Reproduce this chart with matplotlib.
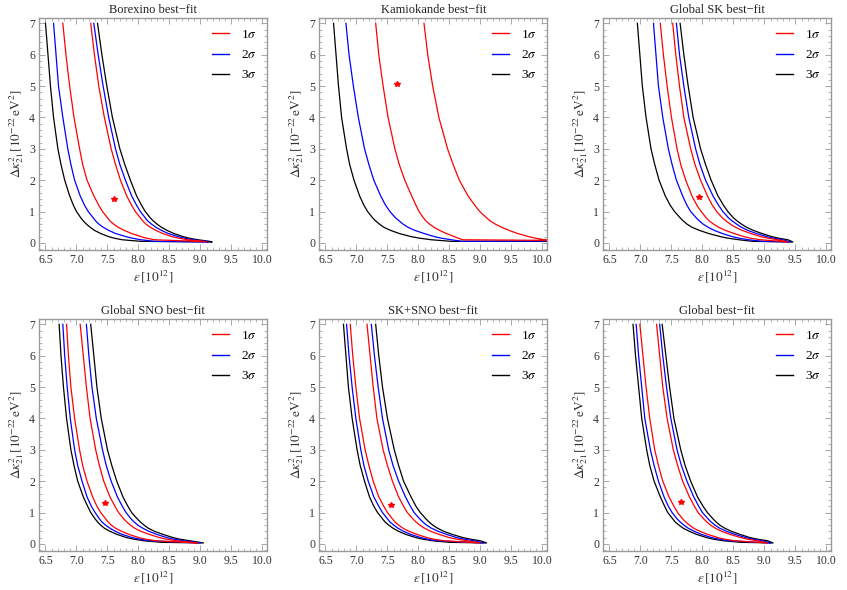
import matplotlib
matplotlib.use("Agg")
import matplotlib.pyplot as plt
from matplotlib.lines import Line2D
from matplotlib.ticker import MultipleLocator, FormatStrFormatter

plt.rcParams["font.family"] = ["Liberation Serif", "DejaVu Serif"]
plt.rcParams["mathtext.fontset"] = "stix"

y_levels = [7, 6, 5, 4, 3, 2.5, 2, 1.5, 1.2, 1, 0.8, 0.7, 0.6, 0.5, 0.4, 0.3, 0.2, 0.15, 0.1, 0.05]

titles = ["Borexino best\u2212fit", "Kamiokande best\u2212fit", "Global SK best\u2212fit",
          "Global SNO best\u2212fit", "SK+SNO best\u2212fit", "Global best\u2212fit"]

# each panel: [1 sigma, 2 sigma, 3 sigma] left and right branches (x at y_levels)
borexino_left = [
    [6.78, 6.83, 6.89, 6.96, 7.05, 7.10, 7.17, 7.28, 7.36, 7.42, 7.50, 7.54, 7.60, 7.67, 7.77, 7.89, 8.04, 8.13, 8.26],
    [6.63, 6.67, 6.71, 6.78, 6.86, 6.91, 6.97, 7.06, 7.13, 7.19, 7.27, 7.31, 7.36, 7.43, 7.52, 7.63, 7.80, 7.90, 8.04, 8.26],
    [6.50, 6.54, 6.58, 6.63, 6.70, 6.75, 6.81, 6.89, 6.95, 7.00, 7.07, 7.11, 7.16, 7.22, 7.29, 7.39, 7.52, 7.61, 7.74, 8.04],
]
borexino_right = [
    [7.23, 7.29, 7.36, 7.45, 7.56, 7.63, 7.71, 7.81, 7.89, 7.95, 8.03, 8.07, 8.12, 8.19, 8.28, 8.39, 8.54, 8.65, 8.80, 9.02],
    [7.28, 7.35, 7.43, 7.52, 7.63, 7.70, 7.79, 7.89, 7.97, 8.03, 8.11, 8.15, 8.21, 8.28, 8.37, 8.48, 8.64, 8.74, 8.88, 9.10],
    [7.34, 7.41, 7.49, 7.58, 7.70, 7.78, 7.87, 7.97, 8.05, 8.11, 8.19, 8.24, 8.30, 8.37, 8.46, 8.57, 8.72, 8.82, 8.96, 9.15],
]
borexino_end = [(9.10, 0.04), (9.13, 0.03), (9.19, 0.03)]

kamiokande_left = [
    [7.31, 7.36, 7.43, 7.51, 7.62, 7.69, 7.78, 7.89, 7.96, 8.01, 8.08, 8.12, 8.18, 8.25, 8.34, 8.45, 8.58, 8.64, 8.72],
    [6.83, 6.88, 6.95, 7.03, 7.13, 7.20, 7.28, 7.39, 7.47, 7.54, 7.63, 7.69, 7.75, 7.83, 7.94, 8.09, 8.26, 8.37, 8.53, 8.70],
    [6.63, 6.67, 6.71, 6.76, 6.84, 6.89, 6.96, 7.05, 7.12, 7.18, 7.26, 7.31, 7.37, 7.44, 7.55, 7.69, 7.88, 8.02, 8.21, 8.53],
]
kamiokande_right = [
    [8.09, 8.15, 8.23, 8.33, 8.47, 8.56, 8.66, 8.80, 8.91, 8.99, 9.10, 9.16, 9.24, 9.34, 9.46, 9.60, 9.78, 9.89, 10.03],
    [],
    [],
]
kamiokande_end = [(10.15, 0.08), (10.15, 0.06), (10.15, 0.05)]

sk_left = [
    [7.32, 7.37, 7.43, 7.50, 7.59, 7.65, 7.73, 7.83, 7.91, 7.98, 8.06, 8.11, 8.18, 8.26, 8.37, 8.51, 8.67, 8.78, 8.94],
    [7.21, 7.25, 7.29, 7.36, 7.45, 7.51, 7.58, 7.68, 7.75, 7.81, 7.90, 7.95, 8.01, 8.09, 8.19, 8.32, 8.48, 8.59, 8.75, 8.97],
    [6.95, 6.99, 7.03, 7.09, 7.17, 7.23, 7.30, 7.40, 7.48, 7.55, 7.64, 7.69, 7.75, 7.83, 7.95, 8.10, 8.29, 8.41, 8.59, 8.81],
]
sk_right = [
    [7.52, 7.57, 7.63, 7.70, 7.81, 7.88, 7.97, 8.08, 8.16, 8.23, 8.32, 8.38, 8.45, 8.53, 8.64, 8.78, 8.94, 9.06, 9.22],
    [7.58, 7.63, 7.70, 7.78, 7.89, 7.96, 8.05, 8.17, 8.26, 8.33, 8.42, 8.48, 8.55, 8.63, 8.73, 8.87, 9.04, 9.15, 9.30],
    [7.64, 7.70, 7.77, 7.85, 7.97, 8.05, 8.14, 8.25, 8.34, 8.41, 8.50, 8.56, 8.63, 8.71, 8.82, 8.96, 9.12, 9.23, 9.38],
]
sk_end = [(9.38, 0.03), (9.42, 0.03), (9.46, 0.03)]

sno_left = [
    [6.84, 6.87, 6.91, 6.97, 7.05, 7.10, 7.17, 7.26, 7.33, 7.39, 7.47, 7.51, 7.56, 7.63, 7.73, 7.85, 8.01, 8.12, 8.28],
    [6.78, 6.81, 6.85, 6.90, 6.97, 7.02, 7.09, 7.17, 7.24, 7.30, 7.37, 7.41, 7.47, 7.54, 7.63, 7.74, 7.90, 8.02, 8.18],
    [6.72, 6.75, 6.79, 6.84, 6.91, 6.96, 7.02, 7.11, 7.18, 7.23, 7.30, 7.34, 7.39, 7.45, 7.54, 7.66, 7.81, 7.93, 8.09, 8.37],
]
sno_right = [
    [7.06, 7.11, 7.16, 7.22, 7.31, 7.37, 7.44, 7.54, 7.62, 7.68, 7.76, 7.81, 7.87, 7.94, 8.04, 8.18, 8.34, 8.45, 8.61],
    [7.16, 7.20, 7.25, 7.32, 7.42, 7.48, 7.56, 7.66, 7.74, 7.80, 7.88, 7.93, 7.99, 8.07, 8.17, 8.30, 8.46, 8.57, 8.73],
    [7.23, 7.28, 7.33, 7.40, 7.50, 7.57, 7.65, 7.75, 7.83, 7.89, 7.98, 8.03, 8.09, 8.16, 8.26, 8.40, 8.56, 8.67, 8.83],
]
sno_end = [(8.95, 0.03), (9.00, 0.03), (9.05, 0.03)]

sksno_left = [
    [6.90, 6.94, 6.99, 7.05, 7.14, 7.20, 7.27, 7.36, 7.44, 7.50, 7.58, 7.62, 7.68, 7.75, 7.85, 7.98, 8.14, 8.25, 8.41],
    [6.84, 6.88, 6.93, 6.99, 7.07, 7.12, 7.19, 7.28, 7.36, 7.42, 7.50, 7.54, 7.60, 7.67, 7.76, 7.88, 8.04, 8.15, 8.31],
    [6.79, 6.83, 6.87, 6.93, 7.01, 7.06, 7.13, 7.21, 7.28, 7.34, 7.42, 7.46, 7.52, 7.59, 7.68, 7.80, 7.96, 8.07, 8.23, 8.50],
]
sksno_right = [
    [7.17, 7.22, 7.27, 7.33, 7.43, 7.50, 7.58, 7.68, 7.76, 7.82, 7.91, 7.96, 8.02, 8.10, 8.20, 8.34, 8.50, 8.62, 8.78],
    [7.24, 7.29, 7.35, 7.42, 7.52, 7.59, 7.68, 7.79, 7.87, 7.93, 8.02, 8.07, 8.13, 8.21, 8.32, 8.46, 8.62, 8.74, 8.90],
    [7.31, 7.36, 7.42, 7.50, 7.61, 7.68, 7.76, 7.88, 7.96, 8.03, 8.12, 8.17, 8.23, 8.31, 8.41, 8.55, 8.72, 8.84, 9.00],
]
sksno_end = [(9.00, 0.03), (9.05, 0.03), (9.10, 0.03)]

global_left = [
    [6.99, 7.04, 7.09, 7.15, 7.23, 7.29, 7.36, 7.46, 7.54, 7.60, 7.68, 7.73, 7.79, 7.86, 7.96, 8.09, 8.25, 8.36, 8.52],
    [6.93, 6.97, 7.02, 7.07, 7.16, 7.22, 7.29, 7.38, 7.45, 7.51, 7.59, 7.64, 7.70, 7.77, 7.87, 7.99, 8.15, 8.27, 8.43],
    [6.88, 6.92, 6.97, 7.02, 7.10, 7.15, 7.22, 7.32, 7.39, 7.44, 7.52, 7.56, 7.62, 7.69, 7.79, 7.91, 8.07, 8.18, 8.34, 8.62],
]
global_right = [
    [7.26, 7.31, 7.36, 7.43, 7.53, 7.60, 7.68, 7.79, 7.87, 7.93, 8.02, 8.07, 8.13, 8.21, 8.31, 8.45, 8.62, 8.73, 8.89],
    [7.31, 7.36, 7.42, 7.49, 7.59, 7.66, 7.75, 7.86, 7.94, 8.00, 8.09, 8.14, 8.20, 8.28, 8.39, 8.53, 8.70, 8.81, 8.97],
    [7.35, 7.41, 7.47, 7.54, 7.65, 7.72, 7.81, 7.92, 8.01, 8.08, 8.17, 8.22, 8.28, 8.36, 8.47, 8.61, 8.77, 8.89, 9.05],
]
global_end = [(9.05, 0.03), (9.10, 0.03), (9.14, 0.03)]

best_x = [7.60, 7.66, 7.95, 7.46, 7.56, 7.66]
best_y = [1.40, 5.05, 1.47, 1.30, 1.25, 1.34]

sigma_labels = ["1$\\sigma$", "2$\\sigma$", "3$\\sigma$"]
sigma_colors = ["#ff0000", "#0000ff", "#000000"]

panels = [
    (borexino_left, borexino_right, borexino_end),
    (kamiokande_left, kamiokande_right, kamiokande_end),
    (sk_left, sk_right, sk_end),
    (sno_left, sno_right, sno_end),
    (sksno_left, sksno_right, sksno_end),
    (global_left, global_right, global_end),
]

W, H = 847, 590
fig = plt.figure(figsize=(W / 100, H / 100), dpi=100)

col_left = [39.3, 319.3, 603.3]
row_top = [18.3, 319.3]
ax_w, ax_h = 228, 231.5

frame_c = "#9a9a9a"
text_c = "#333333"

for i, (lefts, rights, ends) in enumerate(panels):
    r, c = divmod(i, 3)
    ax = fig.add_axes([col_left[c] / W, 1 - (row_top[r] + ax_h) / H, ax_w / W, ax_h / H])

    for k in [2, 1, 0]:
        lx, rx = lefts[k], rights[k]
        xe, ye = ends[k]
        xs = lx + [xe] + rx[::-1]
        ys = y_levels[:len(lx)] + [ye] + y_levels[:len(rx)][::-1]
        ax.plot(xs, ys, color=sigma_colors[k], lw=0.9)

    ax.plot(best_x[i], best_y[i], marker="*", color="#ff0000", ms=4, ls="none")

    ax.set_xlim(6.40, 10.08)
    ax.set_ylim(-0.22, 7.16)
    ax.xaxis.set_major_locator(MultipleLocator(0.5))
    ax.xaxis.set_minor_locator(MultipleLocator(0.1))
    ax.yaxis.set_major_locator(MultipleLocator(1))
    ax.yaxis.set_minor_locator(MultipleLocator(0.2))
    ax.xaxis.set_major_formatter(FormatStrFormatter("%.1f"))
    ax.tick_params(which="both", direction="in", top=True, right=True,
                   color=frame_c, labelcolor=text_c, labelsize=8.5, pad=3)
    ax.tick_params(which="major", length=4, width=0.6)
    ax.tick_params(which="minor", length=2, width=0.5)
    for s in ax.spines.values():
        s.set_color(frame_c)
        s.set_linewidth(1.0)

    ax.set_title(titles[i], fontsize=9, color="#222222", pad=4)
    ax.set_xlabel(r"$\epsilon\,\left[10^{12}\right]$", fontsize=9.5, color=text_c, labelpad=2)
    ax.set_ylabel(r"$\Delta\kappa^{2}_{21}\,\left[10^{-22}\,\mathrm{eV}^{2}\right]$",
                  fontsize=9.5, color=text_c, labelpad=2)

    handles = [Line2D([], [], color=sigma_colors[k], lw=1.0) for k in range(3)]
    ax.legend(handles, sigma_labels, loc="upper right", frameon=False, fontsize=9.5,
              handlelength=1.3, handletextpad=0.9, labelspacing=0.6,
              borderaxespad=0.4)

fig.savefig("out.png", dpi=100)
